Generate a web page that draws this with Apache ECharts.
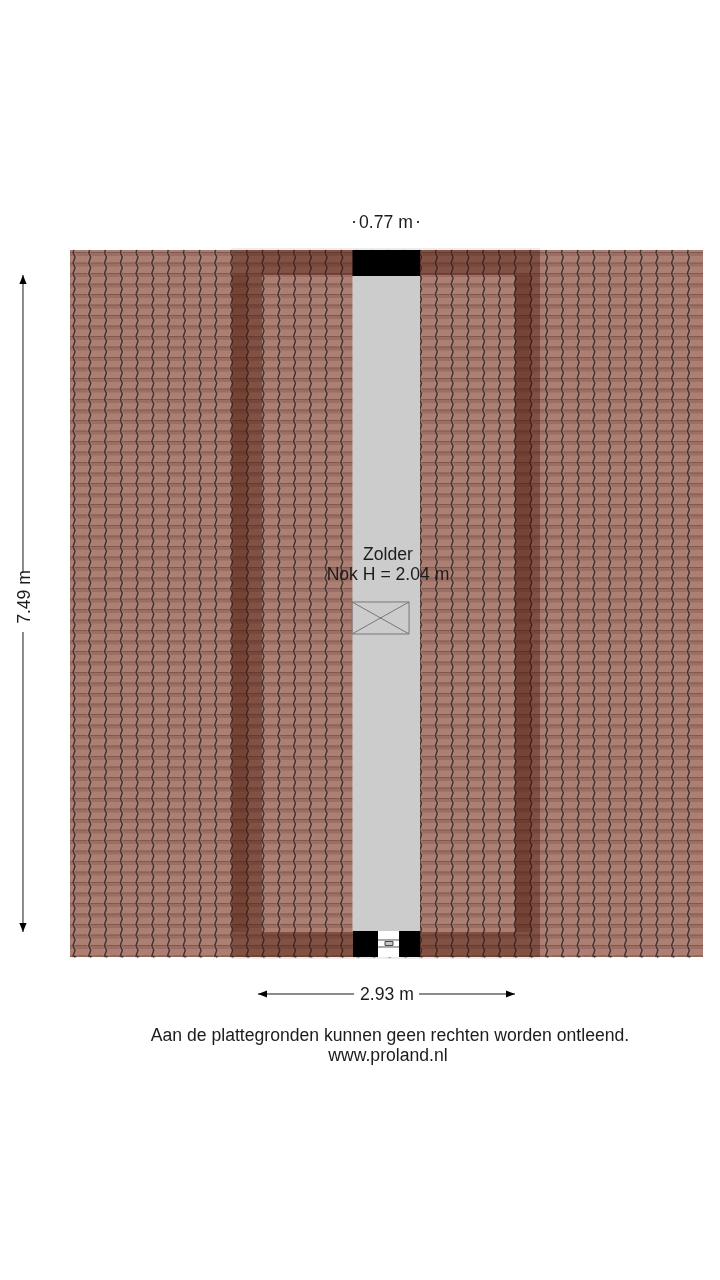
<!DOCTYPE html>
<html><head><meta charset="utf-8"><style>html,body{margin:0;background:#fff}#c{width:720px;height:1280px;filter:blur(0.45px)}</style>
<script src="https://cdn.jsdelivr.net/npm/echarts@6/dist/echarts.min.js"></script></head><body><div id="c"></div>
<script>
// All lengths in metres, measured from the top-left of the sheet
const xExtent = 8.2098, yExtent = 14.5952;
const tileCols = [0.844,1.023,1.203,1.383,1.562,1.742,1.921,2.101,2.281,2.460,2.640,2.820,2.999,3.179,3.358,3.538,3.718,3.897,4.077,4.257,4.436,4.616,4.795,4.975,5.155,5.334,5.514,5.694,5.873,6.053,6.232,6.412,6.592,6.771,6.951,7.131,7.310,7.490,7.669,7.849];
const tileRows = [2.879,2.999,3.118,3.238,3.358,3.478,3.597,3.717,3.837,3.957,4.076,4.196,4.316,4.436,4.555,4.675,4.795,4.914,5.034,5.154,5.274,5.393,5.513,5.633,5.753,5.872,5.992,6.112,6.232,6.351,6.471,6.591,6.710,6.830,6.950,7.070,7.189,7.309,7.429,7.549,7.668,7.788,7.908,8.027,8.147,8.267,8.387,8.506,8.626,8.746,8.866,8.985,9.105,9.225,9.345,9.464,9.584,9.704,9.823,9.943,10.063,10.183,10.302,10.422,10.542,10.662,10.781,10.901];
const roofRect = [[0.798,2.851,8.016,10.912]];
const wallRing = [[2.645,2.851,6.157,3.136],[2.645,10.627,6.157,10.912],[2.645,3.136,2.987,10.627],[5.872,3.136,6.157,10.627]];
const wallStrips = [[2.645,3.136,2.816,10.627],[5.872,3.136,6.055,10.627]];
const wallEdge = [[2.645,2.828,6.157,2.851],[2.645,10.912,6.157,10.935]];
const floorRect = [[4.019,3.147,4.789,10.616]];
const solidWalls = [[4.019,2.851,4.789,3.147],[4.025,10.616,4.310,10.912],[4.550,10.616,4.789,10.912]];
const doorRect = [[4.310,10.616,4.550,10.912]];
const hatchBox = [[4.014,6.864,4.664,7.229]];
const windowLines = [[4.310,10.718,4.550,10.718],[4.310,10.798,4.550,10.798]];
const windowBox = [[4.390,10.735,4.481,10.781]];
const dimLines = [[0.262,3.136,0.262,6.522],[0.262,7.206,0.262,10.627],[2.942,11.334,4.037,11.334],[4.778,11.334,5.872,11.334]];
const dimHeads = [[0.262,3.136,-1],[0.262,10.627,1],[2.942,11.334,-2],[5.872,11.334,2]];
const dimTicks = [[4.037,2.531],[4.766,2.531]];
const labels = [
 ['0.77 m',4.401,2.542,0],['7.49 m',0.285,6.807,90],['2.93 m',4.412,11.345,0],
 ['Zolder',4.424,6.328,0],['Nok H = 2.04 m',4.424,6.556,0],
 ['Aan de plattegronden kunnen geen rechten worden ontleend.',4.447,11.813,0],['www.proland.nl',4.424,12.041,0]
];

function rectSeries(data,fill,z,stroke){return {type:'custom',coordinateSystem:'cartesian2d',z,silent:true,clip:false,data,
 renderItem(p,api){const a=api.coord([api.value(0),api.value(1)]),b=api.coord([api.value(2),api.value(3)]);
  return {type:'rect',shape:{x:a[0],y:a[1],width:b[0]-a[0],height:b[1]-a[1]},style:{fill:fill,stroke:stroke||null,lineWidth:stroke?1:0}};}};}
function lineSeries(data,color,w,z){return {type:'custom',coordinateSystem:'cartesian2d',z,silent:true,data,
 renderItem(p,api){const a=api.coord([api.value(0),api.value(1)]),b=api.coord([api.value(2),api.value(3)]);
  return {type:'line',shape:{x1:a[0],y1:a[1],x2:b[0],y2:b[1]},style:{stroke:color,lineWidth:w}};}};}

const rowBands = tileRows.map(y=>[roofRect[0][0],y,roofRect[0][2],y]);
const rowShades = tileRows.map(y=>[roofRect[0][0],y,roofRect[0][2],Math.min(y+0.04,roofRect[0][3])]);
const hatchCross = [[4.014,6.864,4.664,7.229],[4.014,7.229,4.664,6.864]];

function waveSeries(color,w,z,amp){return {type:'custom',coordinateSystem:'cartesian2d',z,silent:true,data:tileCols.map(x=>[x]),
   renderItem(p,api){
    const x=api.value(0),top=roofRect[0][1],bot=roofRect[0][3];
    const pts=[];const first=api.coord([x,top]);pts.push([first[0],first[1]]);
    for(let i=0;i<tileRows.length;i++){
      const y0=tileRows[i],y1=i+1<tileRows.length?tileRows[i+1]:bot;
      const a=api.coord([x,y0]),b=api.coord([x,y1]),h=b[1]-a[1];
      pts.push([a[0]-amp,a[1]],[a[0]+amp,a[1]+h*0.45]);
    }
    const last=api.coord([x,bot]);pts.push([last[0],last[1]]);
    return {type:'polyline',shape:{points:pts},style:{fill:null,stroke:color,lineWidth:w}};
   }};}

const option = {
 animation:false,backgroundColor:'#fff',
 grid:{left:0,right:0,top:0,bottom:0},
 xAxis:{type:'value',min:0,max:xExtent,show:false},
 yAxis:{type:'value',min:0,max:yExtent,inverse:true,show:false},
 series:[
  rectSeries(roofRect,'#ad7f73',1),
  rectSeries(rowShades,'rgba(125,85,75,0.4)',2),
  lineSeries(rowBands,'#80584d',1.1,2),
  waveSeries('rgba(165,150,145,0.35)',3.4,3,1),
  waveSeries('#4a332e',1.5,3,1),
  rectSeries(wallRing,'rgba(70,20,5,0.42)',4),
  rectSeries(wallStrips,'rgba(70,20,5,0.20)',5),
  rectSeries(wallEdge,'rgba(0,0,0,0.07)',5),
  rectSeries(floorRect,'#cccccc',6),
  rectSeries(solidWalls,'#000000',7),
  rectSeries(doorRect,'#ffffff',7),
  lineSeries(windowLines,'#555555',1,8),
  rectSeries(windowBox,'#c8c8c8',8,'#444444'),
  rectSeries(hatchBox,'rgba(0,0,0,0)',8,'#777777'),
  lineSeries(hatchCross,'#777777',1,8),
  lineSeries(dimLines,'#666666',1.5,9),
  {type:'custom',coordinateSystem:'cartesian2d',z:9,silent:true,data:dimHeads,
   renderItem(p,api){const c=api.coord([api.value(0),api.value(1)]),d=api.value(2),L=9,W=3.6;let pts;
    if(d===-1)pts=[[c[0],c[1]],[c[0]-W,c[1]+L],[c[0]+W,c[1]+L]];
    if(d===1)pts=[[c[0],c[1]],[c[0]-W,c[1]-L],[c[0]+W,c[1]-L]];
    if(d===-2)pts=[[c[0],c[1]],[c[0]+L,c[1]-W],[c[0]+L,c[1]+W]];
    if(d===2)pts=[[c[0],c[1]],[c[0]-L,c[1]-W],[c[0]-L,c[1]+W]];
    return {type:'polygon',shape:{points:pts},style:{fill:'#000'}};}},
  {type:'custom',coordinateSystem:'cartesian2d',z:9,silent:true,data:dimTicks,
   renderItem(p,api){const c=api.coord([api.value(0),api.value(1)]);return {type:'rect',shape:{x:c[0]-1,y:c[1]-1,width:2,height:2},style:{fill:'#333'}};}},
  {type:'custom',coordinateSystem:'cartesian2d',z:10,silent:true,
   data:labels.map(l=>({value:[l[1],l[2],l[3]],name:l[0]})),
   renderItem(p,api){const c=api.coord([api.value(0),api.value(1)]),r=api.value(2);
    return {type:'text',x:c[0],y:c[1],rotation:r*Math.PI/180,style:{text:labels[p.dataIndex][0],x:0,y:0,align:'center',verticalAlign:'middle',fill:'#1c1c1c',font:'17.6px "Liberation Sans", Arial, sans-serif'}};}}
 ]
};
echarts.init(document.getElementById('c'),null,{renderer:'canvas'}).setOption(option);
</script></body></html>
